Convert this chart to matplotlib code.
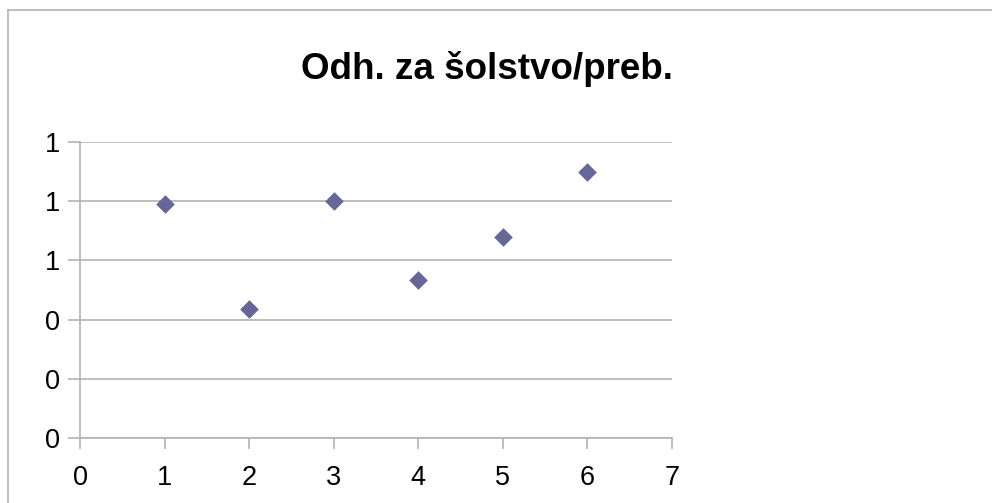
import matplotlib
matplotlib.use("Agg")
from matplotlib import pyplot as plt
from matplotlib.lines import Line2D
from matplotlib.ticker import FuncFormatter

# data
x_values = [1, 2, 3, 4, 5, 6]
y_values = [0.789, 0.437, 0.799, 0.533, 0.679, 0.897]
x_ticks = [0, 1, 2, 3, 4, 5, 6, 7]
y_ticks = [0, 0.2, 0.4, 0.6, 0.8, 1.0]
title = "Odh. za šolstvo/preb."

W, H = 992, 503
DPI = 100
GRID = "#b3b3b3"

plt.rcParams["font.family"] = ["Liberation Sans", "DejaVu Sans"]

fig = plt.figure(figsize=(W / DPI, H / DPI), dpi=DPI)

# frame around the chart
fig.add_artist(Line2D([8 / W, 8 / W], [0, 1 - 10 / H], color=GRID, lw=1.2, transform=fig.transFigure))
fig.add_artist(Line2D([8 / W, 1], [1 - 10 / H, 1 - 10 / H], color=GRID, lw=1.2, transform=fig.transFigure))

left, right, top, bottom = 80, 672, 141.8, 438.3
ax = fig.add_axes([left / W, 1 - bottom / H, (right - left) / W, (bottom - top) / H])

ax.scatter(x_values, y_values, marker="D", s=9.5 ** 2, color="#666699", zorder=3, linewidths=0)

ax.set_xlim(0, 7)
ax.set_ylim(0, 1.0)
ax.set_xticks(x_ticks)
ax.set_yticks(y_ticks)
ax.yaxis.set_major_formatter(FuncFormatter(lambda v, p: "{:.0f}".format(v)))
ax.grid(axis="y", color=GRID, lw=1.2)
ax.set_axisbelow(True)

for s in ["top", "right"]:
    ax.spines[s].set_visible(False)
for s in ["left", "bottom"]:
    ax.spines[s].set_color(GRID)
    ax.spines[s].set_linewidth(1.2)

ax.tick_params(axis="y", length=8.6, width=1.2, color=GRID, pad=5.8, labelsize=19.5)
ax.tick_params(axis="x", length=7.9, width=1.2, color=GRID, pad=11, labelsize=19.5)

fig.text(486.5 / W, 1 - 79.3 / H, title, ha="center", va="baseline", fontsize=26.5, fontweight="bold")

fig.savefig("out.png", dpi=DPI)
